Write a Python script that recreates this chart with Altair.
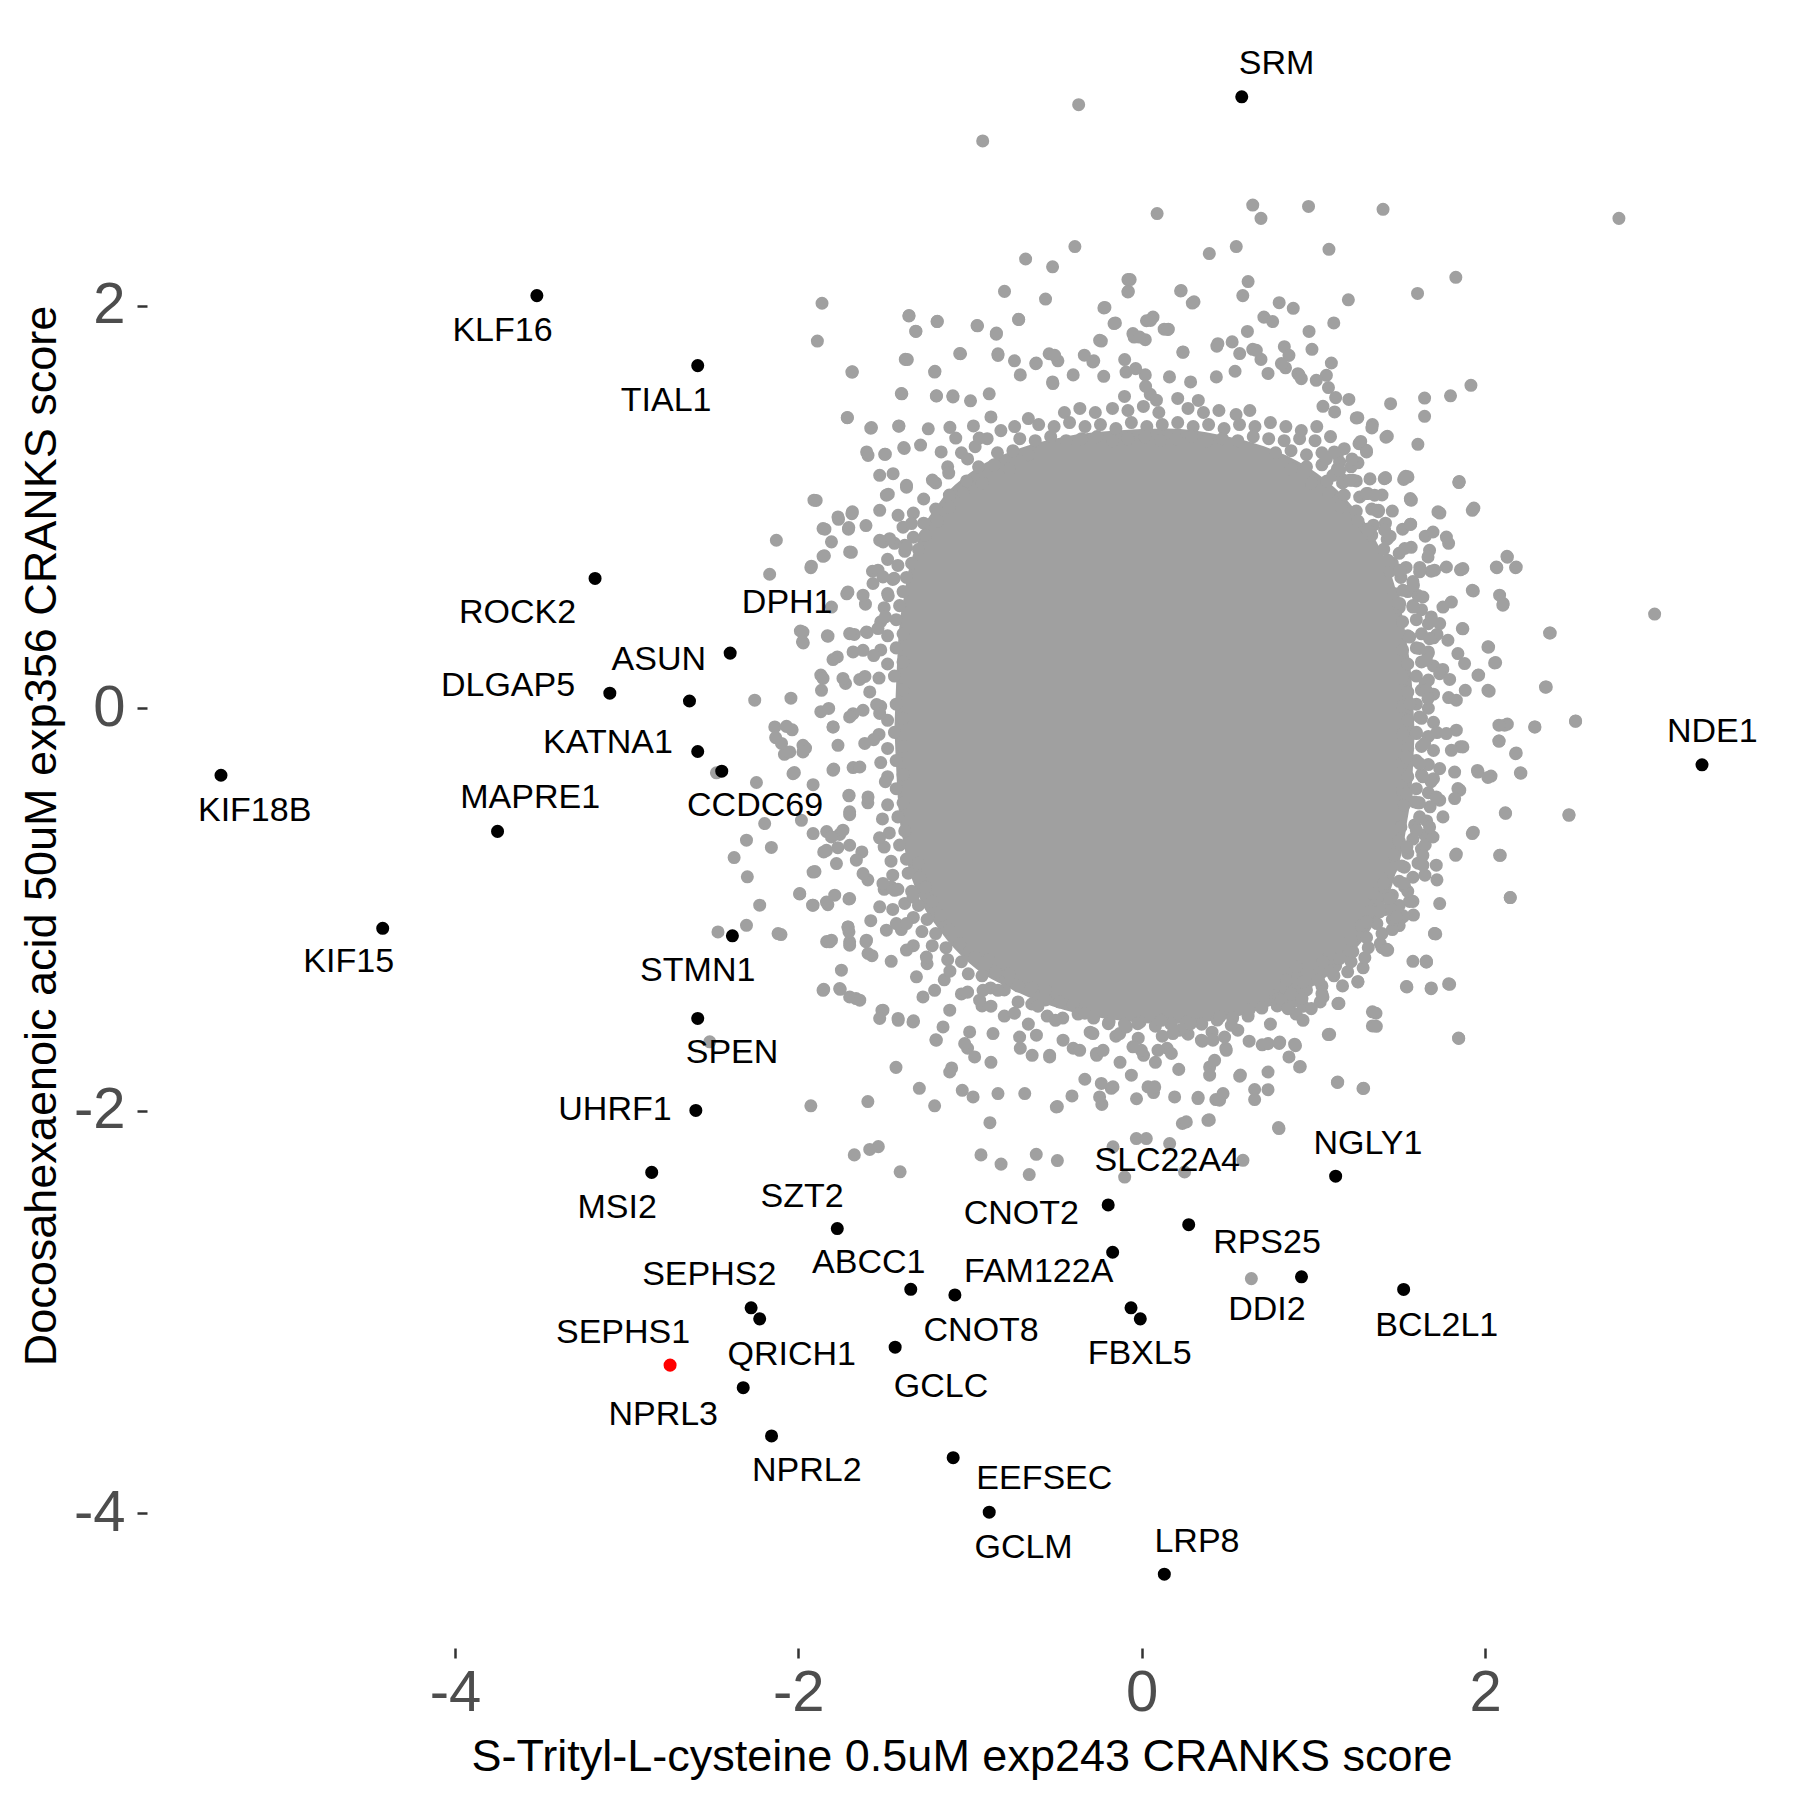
import altair as alt
import pandas as pd

GRAY = "#A0A0A0"

# ---------------- labelled genes (x score, y score, label position) ----------------
genes = ["SRM", "KLF16", "TIAL1", "ROCK2", "DPH1", "ASUN", "DLGAP5", "KATNA1", "CCDC69",
         "KIF18B", "MAPRE1", "KIF15", "STMN1", "SPEN", "UHRF1", "MSI2", "SZT2", "SLC22A4",
         "CNOT2", "RPS25", "NGLY1", "ABCC1", "FAM122A", "DDI2", "CNOT8", "FBXL5", "SEPHS2",
         "QRICH1", "GCLC", "SEPHS1", "NPRL3", "NPRL2", "EEFSEC", "GCLM", "LRP8", "BCL2L1", "NDE1"]
hit_x = [0.583, -3.523, -2.586, -3.184, -2.397, -2.634, -3.098, -2.586, -2.446,
         -5.363, -3.752, -4.421, -2.384, -2.586, -2.597, -2.854, -1.773, -0.195,
         -0.169, 0.274, 1.130, -1.345, -1.088, 0.931, -0.062, -0.008, -2.275,
         -2.225, -1.436, -2.747, -2.321, -2.156, -1.098, -0.888, 0.132, 1.526, 3.264]
hit_y = [3.039, 2.051, 1.703, 0.645, 0.274, 0.036, 0.075, -0.215, -0.313,
         -0.333, -0.612, -1.094, -1.131, -1.542, -1.999, -2.307, -2.586, -2.469,
         -2.704, -2.567, -2.326, -2.888, -2.916, -2.826, -2.980, -3.035, -2.980,
         -3.035, -3.176, -3.265, -3.377, -3.617, -3.725, -3.996, -4.304, -2.889, -0.281]
label_x = [0.786, -3.723, -2.770, -3.636, -2.065, -2.813, -3.691, -3.109, -2.252,
           -5.167, -3.562, -4.619, -2.586, -2.386, -3.068, -3.055, -1.978, 0.149,
           -0.701, 0.730, 1.318, -1.590, -0.600, 0.730, -0.935, -0.012, -2.519,
           -2.038, -1.169, -3.021, -2.787, -1.951, -0.567, -0.688, 0.322, 1.719, 3.324]
label_y = [3.204, 1.876, 1.527, 0.472, 0.524, 0.238, 0.112, -0.173, -0.487,
           -0.510, -0.447, -1.262, -1.308, -1.713, -1.999, -2.484, -2.427, -2.250,
           -2.512, -2.660, -2.164, -2.757, -2.803, -2.992, -3.095, -3.209, -2.815,
           -3.214, -3.374, -3.106, -3.511, -3.790, -3.830, -4.172, -4.144, -3.072, -0.116]
highlight = ["SEPHS1"]

# ---------------- fully covered centre of the background cloud (outline) ----------------
core_x = [-1.44, -1.42, -1.38, -1.30, -1.18, -1.00, -0.75, -0.45, -0.15, 0.15, 0.45, 0.75,
          1.00, 1.20, 1.36, 1.47, 1.54, 1.58, 1.59]
core_lo = [-0.10, -0.45, -0.70, -0.93, -1.10, -1.27, -1.40, -1.50, -1.55, -1.57, -1.55, -1.48,
           -1.38, -1.24, -1.06, -0.85, -0.60, -0.30, -0.12]
core_hi = [-0.10, 0.30, 0.58, 0.84, 1.02, 1.17, 1.28, 1.35, 1.38, 1.39, 1.36, 1.29,
           1.18, 1.03, 0.84, 0.62, 0.35, 0.05, -0.12]

# ---------------- crowded ring of genes around the centre ----------------
band_top = [(-0.10, 1.55), (0.05, 1.56), (0.21, 1.54), (0.33, 1.53),
            (-0.45, 1.47), (-0.36, 1.49), (-0.27, 1.47), (-0.17, 1.49), (-0.08, 1.48), (0.01, 1.50), (0.10, 1.47),
            (0.27, 1.49), (0.36, 1.47), (0.45, 1.48), (0.55, 1.46), (0.63, 1.48),
            (-0.60, 1.41), (-0.51, 1.40), (-0.42, 1.42), (-0.33, 1.40), (-0.24, 1.41), (-0.15, 1.39), (-0.06, 1.42),
            (0.03, 1.40), (0.12, 1.41), (0.21, 1.42), (0.30, 1.40), (0.39, 1.41), (0.48, 1.39), (0.57, 1.41),
            (0.66, 1.40), (0.75, 1.42), (0.84, 1.40),
            (-0.71, 1.34), (-0.62, 1.33), (-0.53, 1.35), (-0.44, 1.33), (-0.35, 1.34), (-0.26, 1.35), (-0.17, 1.33),
            (-0.08, 1.34), (0.02, 1.35), (0.11, 1.33), (0.20, 1.34), (0.29, 1.35), (0.38, 1.33), (0.47, 1.34),
            (0.56, 1.33), (0.65, 1.35), (0.74, 1.34), (0.83, 1.33), (0.92, 1.34), (1.01, 1.33),
            (-0.84, 1.27), (-0.75, 1.28), (-0.66, 1.26), (0.78, 1.27), (0.87, 1.28), (0.96, 1.26),
            (1.05, 1.27), (1.14, 1.26),
            (-0.95, 1.20), (-0.86, 1.21), (-0.77, 1.19), (0.87, 1.19), (0.96, 1.20),
            (1.05, 1.21), (1.14, 1.19), (1.22, 1.20),
            (-1.02, 1.13), (-0.93, 1.12), (0.99, 1.12), (1.08, 1.13), (1.17, 1.12), (1.25, 1.13),
            (-1.12, 1.06), (-1.04, 1.07), (1.09, 1.07), (1.18, 1.06), (1.27, 1.05),
            (-1.20, 0.99), (-1.12, 1.00), (1.16, 1.00), (1.25, 0.98), (1.34, 0.99),
            (-1.27, 0.92), (-1.19, 0.93), (1.26, 0.93), (1.35, 0.91), (1.42, 0.92),
            (-1.33, 0.85), (-1.26, 0.86), (1.34, 0.86), (1.43, 0.84),
            (-1.38, 0.78), (-1.30, 0.79), (1.41, 0.79), (1.50, 0.77),
            (-1.42, 0.71), (-1.34, 0.72), (1.46, 0.72), (1.54, 0.70),
            (-1.45, 0.64), (-1.37, 0.65), (1.51, 0.65), (1.58, 0.63),
            (-1.48, 0.57), (-1.39, 0.58), (1.47, 0.57), (1.55, 0.58), (1.61, 0.56),
            (-1.50, 0.50), (-1.41, 0.51), (1.50, 0.50), (1.58, 0.51), (1.63, 0.49)]

band_corners = [(-1.05, 1.27), (-0.97, 1.30), (-0.90, 1.34), (-0.82, 1.38), (-0.74, 1.40), (-0.66, 1.44),
                (-1.13, 1.20), (-1.20, 1.12), (-1.27, 1.04), (-1.33, 0.97), (-1.39, 0.90), (-1.44, 0.82),
                (-1.48, 0.74),
                (0.93, 1.38), (1.02, 1.40), (1.10, 1.35), (1.18, 1.29), (1.26, 1.22), (1.33, 1.14), (1.40, 1.06),
                (1.46, 0.98), (1.52, 0.89), (1.57, 0.80), (1.62, 0.70),
                (-1.50, -0.90), (-1.45, -1.00), (-1.40, -1.10), (-1.33, -1.18), (-1.25, -1.27), (-1.15, -1.35),
                (-1.05, -1.42), (-0.93, -1.48), (-0.80, -1.53), (-0.66, -1.57),
                (0.75, -1.57), (0.90, -1.52), (1.04, -1.46), (1.17, -1.38), (1.29, -1.29), (1.40, -1.19),
                (1.50, -1.08), (1.58, -0.96), (1.65, -0.83)]

band_left = [(-1.52, 0.43), (-1.43, 0.44), (-1.48, 0.36), (-1.39, 0.37),
             (-1.52, 0.29), (-1.43, 0.30), (-1.48, 0.22), (-1.39, 0.23),
             (-1.53, 0.15), (-1.44, 0.16), (-1.39, 0.09),
             (-1.52, 0.01), (-1.43, 0.02), (-1.48, -0.06), (-1.39, -0.05),
             (-1.53, -0.13), (-1.44, -0.12), (-1.48, -0.20), (-1.39, -0.19),
             (-1.52, -0.27), (-1.43, -0.26), (-1.48, -0.34), (-1.39, -0.33),
             (-1.43, -0.40), (-1.48, -0.48), (-1.39, -0.47),
             (-1.51, -0.55), (-1.42, -0.54), (-1.47, -0.62), (-1.38, -0.61),
             (-1.50, -0.69), (-1.41, -0.68), (-1.46, -0.76), (-1.37, -0.75), (-1.30, -0.77),
             (-1.45, -0.83), (-1.36, -0.82), (-1.29, -0.84)]

band_lowleft = [(-1.42, -0.90), (-1.34, -0.91), (-1.26, -0.89), (-1.38, -0.97), (-1.30, -0.98), (-1.22, -0.96),
                (-1.33, -1.04), (-1.25, -1.05), (-1.17, -1.03), (-1.28, -1.11), (-1.20, -1.12), (-1.12, -1.10),
                (-1.22, -1.18), (-1.14, -1.19), (-1.06, -1.17),
                (-1.13, -1.25), (-1.05, -1.26), (-0.97, -1.24), (-0.89, -1.25),
                (-1.01, -1.32), (-0.93, -1.33), (-0.85, -1.31), (-0.77, -1.32),
                (-0.88, -1.39), (-0.80, -1.40), (-0.72, -1.38), (-0.64, -1.39), (-0.56, -1.40),
                (-0.72, -1.46), (-0.64, -1.47), (-0.56, -1.45), (-0.48, -1.46), (-0.40, -1.47)]

band_bottom = [(-0.55, -1.53), (-0.46, -1.54), (-0.37, -1.52), (-0.28, -1.54), (-0.19, -1.56), (-0.10, -1.57),
               (-0.01, -1.56), (0.08, -1.58), (0.17, -1.57), (0.26, -1.56), (0.35, -1.57), (0.44, -1.55),
               (0.53, -1.54), (0.62, -1.53), (-0.30, -1.61), (-0.15, -1.63), (-0.02, -1.64), (0.12, -1.63),
               (0.27, -1.62), (0.41, -1.61), (0.56, -1.60)]

band_lowright = [(0.70, -1.49), (0.79, -1.48), (0.88, -1.46), (0.78, -1.43), (0.87, -1.42), (0.96, -1.40),
                 (1.05, -1.38), (0.94, -1.36), (1.03, -1.35), (1.12, -1.33), (1.20, -1.31), (1.04, -1.29),
                 (1.13, -1.28), (1.22, -1.26), (1.30, -1.24), (1.14, -1.22), (1.23, -1.21), (1.32, -1.19),
                 (1.39, -1.17), (1.22, -1.15), (1.31, -1.14), (1.40, -1.12), (1.46, -1.10), (1.28, -1.08),
                 (1.37, -1.07), (1.46, -1.05), (1.52, -1.03), (1.33, -1.01), (1.42, -1.00), (1.50, -0.98),
                 (1.56, -0.96), (1.37, -0.94), (1.46, -0.93), (1.55, -0.91), (1.41, -0.87), (1.50, -0.86),
                 (1.58, -0.84), (1.45, -0.80), (1.53, -0.79), (1.61, -0.77), (1.47, -0.73), (1.55, -0.72),
                 (1.63, -0.70), (1.50, -0.66), (1.58, -0.65), (1.65, -0.63), (1.51, -0.59), (1.59, -0.58),
                 (1.66, -0.56)]

band_right = [(1.52, 0.43), (1.60, 0.44), (1.67, 0.42), (1.55, 0.36), (1.63, 0.37), (1.70, 0.35),
              (1.52, 0.29), (1.60, 0.30), (1.67, 0.28), (1.55, 0.22), (1.63, 0.23), (1.70, 0.21),
              (1.52, 0.15), (1.60, 0.16), (1.67, 0.14), (1.55, 0.08), (1.63, 0.09), (1.70, 0.07),
              (1.52, 0.01), (1.60, 0.02), (1.67, 0.00), (1.55, -0.06), (1.63, -0.05), (1.70, -0.07),
              (1.52, -0.13), (1.60, -0.12), (1.67, -0.14), (1.55, -0.20), (1.63, -0.19), (1.70, -0.21),
              (1.52, -0.27), (1.60, -0.26), (1.67, -0.28), (1.55, -0.34), (1.63, -0.33), (1.70, -0.35),
              (1.52, -0.41), (1.60, -0.40), (1.67, -0.42), (1.53, -0.48), (1.61, -0.47), (1.68, -0.49)]

# ---------------- scattered background genes ----------------
gray_top = [(0.090, 2.459), (0.647, 2.501), (0.695, 2.435), (0.972, 2.494), (1.406, 2.480), (2.780, 2.435),
            (-0.676, 2.233), (-0.519, 2.194), (-0.389, 2.295), (0.394, 2.260), (0.551, 2.295), (1.091, 2.281),
            (1.830, 2.142), (-0.067, 2.131), (-0.078, 2.072), (0.230, 2.076), (0.305, 2.020), (0.620, 2.121),
            (-0.799, 2.072), (-0.560, 2.034), (-1.862, 2.013), (1.607, 2.062), (1.204, 2.030),
            (-0.367, 3.000), (-0.926, 2.820),
            (-1.889, 1.825), (-1.356, 1.950), (-1.315, 1.873), (-1.192, 1.922), (-0.956, 1.901), (-0.847, 1.859),
            (-0.717, 1.933), (-0.214, 1.992), (-0.153, 1.915), (0.028, 1.926), (0.066, 1.944), (0.155, 1.884),
            (-0.044, 1.845), (-0.235, 1.825), (0.589, 2.051), (0.712, 1.944), (0.801, 2.016), (0.883, 1.988),
            (0.763, 1.922), (0.616, 1.873), (0.975, 1.873), (1.119, 1.915), (0.240, 1.769), (0.527, 1.821),
            (0.438, 1.800), (0.647, 1.784), (0.831, 1.797), (0.992, 1.784), (-1.377, 1.734), (-1.055, 1.762),
            (-0.837, 1.762), (-0.539, 1.762), (-0.488, 1.727), (-0.334, 1.755), (0.021, 1.832), (0.131, 1.884),
            (-1.688, 1.671), (-1.206, 1.671), (-1.397, 1.563), (-1.195, 1.553), (-1.100, 1.553), (-0.997, 1.528),
            (-0.888, 1.563), (-1.715, 1.444), (-1.578, 1.392), (-1.414, 1.403), (-1.243, 1.389), (-1.117, 1.396),
            (-0.980, 1.403), (-0.878, 1.448), (-0.741, 1.727), (-0.707, 1.657), (-0.614, 1.716), (-0.519, 1.622),
            (-0.399, 1.657), (-0.279, 1.727), (-0.221, 1.650), (-0.091, 1.671), (0.021, 1.657), (0.162, 1.647),
            (0.285, 1.622), (0.435, 1.647), (0.544, 1.675), (0.695, 1.734), (0.736, 1.664), (0.838, 1.692),
            (0.917, 1.657), (1.105, 1.716), (1.088, 1.594), (1.207, 1.535), (1.450, 1.514), (1.648, 1.542),
            (1.799, 1.553), (1.918, 1.605), (1.648, 1.451), (1.259, 1.444), (1.344, 1.410)]

gray_topleft = [(-1.685, 1.672), (-1.714, 1.445), (-1.574, 1.395), (-1.594, 1.257), (-1.497, 1.262),
                (-1.386, 1.296), (-1.415, 1.402), (-1.400, 1.564), (-1.365, 1.733), (-1.355, 1.952),
                (-1.316, 1.874), (-1.190, 1.923), (-1.204, 1.675), (-1.196, 1.552), (-1.099, 1.547),
                (-1.060, 1.763), (-0.959, 1.902), (-0.846, 1.865), (-0.837, 1.754), (-0.716, 1.932),
                (-0.617, 1.713), (-0.517, 1.614), (-0.507, 1.754), (-0.220, 1.990), (-0.161, 1.912),
                (-0.080, 2.131), (-0.080, 2.069), (0.227, 2.074), (0.295, 2.014), (0.153, 1.883),
                (0.052, 1.928), (-0.051, 1.862), (-0.012, 1.845), (0.241, 1.771), (-0.245, 1.829),
                (-0.284, 1.721), (-0.099, 1.733), (-0.035, 1.688), (0.444, 1.812), (0.023, 1.600), (0.086, 1.531)]

gray_topright = [(0.858, 1.754), (1.076, 1.655), (1.017, 1.630), (1.130, 1.544), (1.124, 1.473), (1.056, 1.501),
                 (1.250, 1.443), (1.341, 1.393), (1.431, 1.352), (1.266, 1.315), (1.309, 1.282), (1.609, 1.312),
                 (1.419, 1.145), (1.526, 1.137), (1.551, 1.150), (1.848, 1.122), (1.231, 1.133), (1.318, 1.067),
                 (1.357, 1.059), (1.565, 1.042), (1.114, 1.158), (1.153, 1.224), (1.076, 1.240), (0.814, 1.713),
                 (0.910, 1.663), (0.930, 1.638), (0.668, 1.779), (0.571, 1.763)]

gray_mid = [(-1.602, 1.274), (-1.493, 1.263), (-1.383, 1.291), (-1.288, 1.308), (-1.168, 1.274), (-1.083, 1.343),
            (-1.014, 1.239), (-0.946, 1.343), (1.276, 1.326), (1.423, 1.347), (1.225, 1.239), (1.310, 1.274),
            (1.122, 1.274), (-1.896, 1.033), (-1.766, 0.939), (-1.688, 0.967), (-1.476, 1.064), (-1.370, 1.099),
            (-1.219, 1.134), (-1.124, 1.169), (1.173, 1.134), (1.413, 1.141), (1.532, 1.148), (1.850, 1.127),
            (1.566, 1.036), (1.378, 0.977),
            (-1.845, 0.890), (-1.708, 0.890), (-1.606, 0.908), (-1.506, 0.827), (-1.380, 0.810), (-1.927, 0.699),
            (-1.848, 0.758), (-1.691, 0.775), (-1.568, 0.681), (-1.442, 0.646), (1.935, 0.995), (1.737, 0.970),
            (1.566, 0.914), (1.310, 0.890), (1.447, 0.855), (1.652, 0.855), (1.788, 0.820), (2.069, 0.699),
            (2.130, 0.751), (2.178, 0.699), (1.932, 0.583), (2.106, 0.520), (1.686, 0.681), (1.583, 0.611),
            (1.447, 0.681), (-1.718, 0.569), (-1.609, 0.517), (-1.476, 0.559), (1.857, 0.688),
            (-1.988, 0.384), (-1.971, 0.325), (-1.831, 0.360), (-1.674, 0.367), (-1.599, 0.377), (-1.493, 0.454),
            (-1.561, 0.262), (-1.869, 0.165), (-1.773, 0.255), (-1.725, 0.123), (-1.612, 0.158), (2.988, 0.468),
            (2.380, 0.374), (2.021, 0.304), (1.871, 0.395), (1.720, 0.367), (1.618, 0.297), (1.963, 0.165),
            (2.062, 0.227), (2.352, 0.105), (2.024, 0.085), (1.652, 0.123), (1.788, 0.053), (-2.043, 0.050),
            (-1.869, -0.017), (-1.681, -0.027), (-1.544, 0.018), (1.754, 0.193),
            (-2.036, -0.107), (-1.958, -0.198), (-1.797, -0.093), (-2.081, -0.229), (-1.794, -0.302),
            (-1.681, -0.295), (-2.023, -0.320), (-1.561, -0.156), (-1.493, -0.365), (2.527, -0.065),
            (2.291, -0.093), (2.130, -0.079), (2.082, -0.163), (2.178, -0.226), (2.209, -0.323), (1.956, -0.309),
            (2.035, -0.337), (1.857, -0.191), (1.720, -0.121), (1.686, -0.365), (-1.705, -0.435), (-1.701, -0.529),
            (-1.595, -0.470), (2.489, -0.529), (2.120, -0.522), (1.853, -0.407), (1.618, -0.470),
            (-1.835, -0.613), (-1.759, -0.627), (-1.852, -0.714), (-1.770, -0.693), (-1.903, -0.812),
            (-1.630, -0.714), (-1.527, -0.644), (1.932, -0.616), (2.089, -0.731), (1.833, -0.725), (1.652, -0.679),
            (1.515, -0.784), (1.720, -0.853), (2.147, -0.941), (-1.992, -0.923), (-1.917, -0.979), (-1.828, -0.976),
            (-1.705, -0.948), (-1.595, -0.853), (-1.459, -0.888), (1.532, -0.888), (1.447, -0.993), (1.583, -1.028),
            (1.310, -1.063)]

gray_left = [(-2.128, 0.835), (-2.167, 0.666), (-2.254, 0.040), (-2.137, -0.093), (-2.132, -0.146), (-2.244, -0.369),
             (-2.196, -0.573), (-2.302, -0.656), (-2.157, -0.692), (-2.374, -0.742), (-2.297, -0.838),
             (-2.225, -0.979), (-2.302, -1.079), (-2.468, -1.112), (-2.118, -1.120), (-2.477, -0.321),
             (-2.516, -1.658),
             (-1.909, 1.034), (-1.856, 0.893), (-1.769, 0.951), (-1.685, 0.976), (-1.706, 0.898), (-1.807, 0.827),
             (-1.856, 0.755), (-1.924, 0.706), (-1.701, 0.777), (-1.526, 0.984), (-1.487, 1.059), (-1.526, 1.158),
             (-1.448, 1.166), (-1.370, 1.108), (-1.419, 0.959), (-1.341, 0.918), (-1.468, 0.843), (-1.526, 0.835),
             (-1.370, 0.802), (-1.536, 0.686), (-1.507, 0.653), (-1.565, 0.620), (-1.711, 0.578), (-1.623, 0.562),
             (-1.807, 0.503), (-1.973, 0.379), (-1.976, 0.330), (-1.827, 0.358), (-1.701, 0.371), (-1.603, 0.379),
             (-1.536, 0.396), (-1.681, 0.280), (-1.623, 0.288), (-1.798, 0.242), (-1.856, 0.148), (-1.740, 0.148),
             (-1.642, 0.143), (-1.865, 0.089), (-1.823, -0.001), (-1.584, 0.081), (-1.798, -0.093), (-1.701, -0.043),
             (-1.623, -0.010), (-1.526, -0.026), (-1.769, -0.184), (-1.613, -0.175), (-1.642, -0.292),
             (-1.798, -0.308), (-1.705, -0.432), (-1.701, -0.515), (-1.594, -0.441), (-1.807, -0.640),
             (-1.740, -0.606), (-1.701, -0.681), (-1.836, -0.706), (-1.778, -0.772), (-1.662, -0.755),
             (-1.914, -0.814), (-1.992, -0.921), (-1.914, -0.979), (-1.836, -0.963), (-1.788, -0.929),
             (-1.701, -0.946), (-1.711, -1.087), (-1.701, -1.161), (-1.807, -1.153), (-1.603, -1.153),
             (-1.487, -1.103), (-1.429, -1.070), (-1.370, -1.070), (-1.623, -0.822), (-1.507, -0.871),
             (-1.526, -0.987), (-1.439, -0.905), (-1.332, -0.938), (-1.982, -0.557), (-2.031, -0.325),
             (-1.914, -0.380), (-2.069, -0.090), (-2.098, -0.175), (-2.050, -0.217), (-1.973, -0.184),
             (-1.973, -0.217), (-1.914, -0.623)]

gray_right = [(1.421, 1.145), (1.538, 1.153), (1.848, 1.125), (1.571, 1.034), (1.926, 0.984), (1.380, 0.984),
              (1.726, 0.976), (1.567, 0.915), (1.697, 0.876), (1.775, 0.851), (1.677, 0.785), (1.668, 0.752),
              (1.532, 0.794), (2.128, 0.755), (2.066, 0.702), (2.182, 0.702), (1.871, 0.694), (1.775, 0.702),
              (1.706, 0.686), (1.619, 0.678), (1.926, 0.586), (2.085, 0.562), (2.104, 0.512), (1.638, 0.553),
              (1.804, 0.528), (1.755, 0.503), (1.687, 0.454), (1.736, 0.421), (1.868, 0.396), (2.376, 0.374),
              (1.784, 0.338), (2.017, 0.305), (1.677, 0.346), (1.668, 0.272), (1.658, 0.239), (1.842, 0.272),
              (1.881, 0.222), (2.056, 0.225), (1.959, 0.164), (1.736, 0.172), (1.794, 0.143), (2.357, 0.106),
              (2.017, 0.089), (1.885, 0.089), (1.833, 0.040), (1.658, 0.089), (1.668, 0.048), (2.528, -0.063),
              (2.289, -0.093), (2.114, -0.084), (2.081, -0.084), (2.081, -0.163), (2.182, -0.222), (2.206, -0.321),
              (1.959, -0.317), (2.017, -0.344), (1.833, -0.109), (1.775, -0.126), (1.871, -0.192), (1.804, -0.209),
              (1.736, -0.300), (1.823, -0.317), (1.842, -0.399), (1.823, -0.449), (1.755, -0.540), (1.736, -0.457),
              (2.118, -0.520), (2.489, -0.532), (1.926, -0.623), (2.085, -0.731), (1.829, -0.731), (1.638, -0.731),
              (1.716, -0.780), (1.638, -0.780), (1.545, -0.689), (2.147, -0.941), (1.736, -0.971), (1.528, -0.871),
              (1.706, -1.120), (1.429, -1.198), (1.658, -1.257), (1.153, -1.236), (1.066, -1.252), (1.522, -1.037),
              (1.483, -1.037), (1.386, -1.012), (1.444, -0.946), (1.347, -0.921), (1.600, -0.606), (1.619, -0.540),
              (1.697, -0.640), (1.677, -0.590), (1.542, -0.424), (1.590, -0.466), (1.716, -0.441), (1.638, -0.341),
              (1.542, -0.242), (1.619, -0.275), (1.648, -0.175), (1.600, -0.126), (1.561, 0.023), (1.619, -0.043),
              (1.561, 0.354), (1.503, 0.520), (1.580, 0.503), (1.522, 0.586), (1.434, 0.736), (1.503, 0.686),
              (1.367, 0.984), (1.318, 0.885), (1.415, 0.885), (1.211, 1.133), (1.309, 1.067), (1.153, 1.183)]

gray_bottom = [(-2.101, -1.125), (-1.835, -1.160), (-1.705, -1.111), (-1.578, -1.056), (-1.606, -1.160),
               (-1.571, -1.230), (-1.459, -1.258), (-1.370, -1.202), (-1.254, -1.237), (-1.117, -1.307),
               (1.713, -1.122), (1.659, -1.261), (1.788, -1.370), (1.686, -1.394), (1.542, -1.383), (1.433, -1.202),
               (1.580, -1.258), (1.259, -1.359), (1.115, -1.244), (1.149, -1.467), (1.050, -1.418), (0.941, -1.481),
               (-1.852, -1.397), (-1.756, -1.397), (-1.664, -1.443), (-1.513, -1.502), (-1.418, -1.551),
               (-1.329, -1.554), (-1.014, -1.411), (-0.878, -1.481), (-0.741, -1.516), (-0.604, -1.481),
               (-0.502, -1.551), (-0.331, -1.516), (-0.194, -1.568), (-0.023, -1.568), (0.114, -1.551),
               (0.285, -1.568), (0.456, -1.533), (0.626, -1.499), (0.797, -1.446), (1.365, -1.516), (1.344, -1.579),
               (1.095, -1.621), (1.847, -1.641),
               (-1.199, -1.648), (-1.431, -1.785), (-1.927, -1.976), (-1.595, -1.955), (-1.295, -1.889),
               (-1.206, -1.976), (-1.107, -1.788), (-1.045, -1.899), (-1.014, -1.690), (-0.878, -1.760),
               (-0.707, -1.690), (-0.638, -1.725), (-0.536, -1.725), (-0.399, -1.690), (-0.262, -1.725),
               (-0.126, -1.760), (0.011, -1.725), (0.148, -1.690), (0.353, -1.655), (0.490, -1.690), (0.626, -1.655),
               (0.702, -1.673), (0.801, -1.666), (0.896, -1.677), (0.924, -1.781), (0.736, -1.896), (0.575, -1.823),
               (0.432, -1.945), (0.329, -1.934), (0.237, -2.064), (0.394, -2.046), (-0.030, -1.941), (0.069, -1.910),
               (-0.177, -1.889), (-0.235, -1.865), (-0.331, -1.844), (-0.406, -1.927), (-0.491, -1.980),
               (-0.232, -1.969), (-0.884, -2.060), (-0.614, -2.217), (-0.491, -2.248), (-0.655, -2.318),
               (-0.819, -2.266), (-0.936, -2.220), (-1.407, -2.304), (-1.534, -2.179), (-1.674, -2.220),
               (1.142, -1.858), (1.293, -1.889), (0.797, -2.084), (0.216, -1.795), (0.080, -1.760),
               (0.639, -2.835), (-0.167, -2.180), (-0.031, -2.139), (0.027, -2.139), (0.163, -2.164),
               (-0.099, -2.330), (0.250, -2.305), (0.590, -2.247), (-1.584, -2.193), (-0.982, -1.932),
               (-0.837, -1.915), (-0.681, -1.915),
               (-1.856, -1.402), (-1.749, -1.302), (-1.759, -1.393), (-1.701, -1.435), (-1.642, -1.451),
               (-1.817, -1.161), (-1.701, -1.178), (-1.594, -1.219), (-1.710, -1.087), (-1.507, -1.501),
               (-1.526, -1.542), (-1.419, -1.542), (-1.332, -1.559), (-1.312, -1.335), (-1.274, -1.435),
               (-1.206, -1.402), (-1.196, -1.650), (-1.157, -1.584), (-1.118, -1.501), (-1.031, -1.667),
               (-0.973, -1.733), (-1.002, -1.609), (-0.924, -1.402), (-0.837, -1.402), (-0.944, -1.451),
               (-0.866, -1.617), (-0.711, -1.634), (-0.613, -1.625), (-0.536, -1.733), (-0.458, -1.650),
               (-0.361, -1.700), (-0.284, -1.617), (-0.264, -1.716), (-1.118, -1.808), (-0.497, -1.982),
               (1.425, -1.203), (1.706, -1.120), (1.658, -1.261), (1.545, -1.385), (1.687, -1.390), (1.794, -1.372),
               (1.846, -1.639), (1.344, -1.509), (1.367, -1.581), (1.260, -1.360), (1.153, -1.244), (1.114, -1.319),
               (1.056, -1.261), (1.027, -1.352), (1.056, -1.435), (1.143, -1.468), (1.087, -1.622), (1.140, -1.860),
               (1.289, -1.890), (0.934, -1.443), (0.988, -1.493), (0.940, -1.551), (0.843, -1.352), (0.901, -1.286),
               (0.814, -1.451), (0.852, -1.493), (0.736, -1.667), (0.804, -1.659), (0.891, -1.670), (0.858, -1.733),
               (0.920, -1.783), (0.736, -1.808), (0.571, -1.829), (0.658, -1.895), (0.658, -1.945), (0.454, -1.948),
               (0.474, -1.915), (0.328, -1.940), (0.192, -1.932), (0.396, -1.783), (0.425, -1.750), (0.396, -1.824),
               (0.493, -1.700), (0.483, -1.634), (0.522, -1.576), (0.348, -1.650), (0.415, -1.650), (0.095, -1.700),
               (0.173, -1.716), (-0.060, -1.824), (0.037, -1.882), (0.076, -1.882), (-0.167, -1.882), (0.221, -1.600),
               (0.182, -1.617), (-0.002, -1.700), (-0.051, -1.683), (-0.128, -1.617), (-0.089, -1.584),
               (-0.225, -1.700), (-0.245, -1.932), (0.260, -2.056), (0.386, -2.048), (0.800, -2.089)]

x_ticks = [-4, -2, 0, 2]
y_ticks = [-4, -2, 0, 2]
x_title = "S-Trityl-L-cysteine 0.5uM exp243 CRANKS score"
y_title = "Docosahexaenoic acid 50uM exp356 CRANKS score"

# ---------------- tables ----------------
gray_all = (band_top + band_corners + band_left + band_lowleft + band_bottom + band_lowright + band_right +
            gray_top + gray_topleft + gray_topright + gray_mid + gray_left + gray_right + gray_bottom)
gray_df = pd.DataFrame(gray_all, columns=["x", "y"])
core_df = pd.DataFrame({"x": core_x, "lo": core_lo, "hi": core_hi})
hits_df = pd.DataFrame({"gene": genes, "x": hit_x, "y": hit_y, "lx": label_x, "ly": label_y})
hits_df["kind"] = ["highlight" if g in highlight else "hit" for g in genes]

FONT = "Liberation Sans"
xscale = alt.Scale(domain=[-5.794, 3.695], nice=False, zero=False)
yscale = alt.Scale(domain=[-4.671, 3.406], nice=False, zero=False)
label_expr = "datum.value < 0 ? '-' + abs(datum.value) : '' + datum.value"

xaxis = alt.Axis(values=x_ticks, domain=False, grid=False, tickColor="#333333", tickSize=10,
                 tickWidth=2.5, labelFont=FONT, labelFontSize=58, labelColor="#4D4D4D",
                 labelPadding=6, labelFlush=False, labelExpr=label_expr, titleFont=FONT,
                 titleFontSize=45, titleFontWeight="normal", titleColor="#000000", titlePadding=12)
yaxis = alt.Axis(values=y_ticks, domain=False, grid=False, tickColor="#333333", tickSize=10,
                 tickWidth=2.5, labelFont=FONT, labelFontSize=58, labelColor="#4D4D4D",
                 labelPadding=12, labelFlush=False, labelExpr=label_expr, titleFont=FONT,
                 titleFontSize=45, titleFontWeight="normal", titleColor="#000000", titlePadding=9)

core = alt.Chart(core_df).mark_area(color=GRAY, opacity=1, interpolate="monotone").encode(
    x=alt.X("x:Q", scale=xscale, axis=xaxis, title=x_title),
    y=alt.Y("lo:Q", scale=yscale, axis=yaxis, title=y_title),
    y2="hi:Q",
)
cloud = alt.Chart(gray_df).mark_circle(color=GRAY, size=170, opacity=1).encode(
    x="x:Q", y="y:Q"
)
hits = alt.Chart(hits_df).mark_circle(size=170, opacity=1).encode(
    x="x:Q", y="y:Q",
    color=alt.Color("kind:N", scale=alt.Scale(domain=["hit", "highlight"],
                                              range=["#000000", "#FF0000"]), legend=None),
)
labels = alt.Chart(hits_df).mark_text(font=FONT, fontSize=34, color="#000000").encode(
    x="lx:Q", y="ly:Q", text="gene:N"
)

chart = alt.layer(core, cloud, hits, labels).properties(
    width=1629, height=1625,
    autosize=alt.AutoSizeParams(type="none"),
    padding={"left": 139, "top": 15, "right": 8, "bottom": 132},
    background="white",
).configure_view(stroke=None)

chart.save("out.html", embed_options={"renderer": "svg", "actions": False})
